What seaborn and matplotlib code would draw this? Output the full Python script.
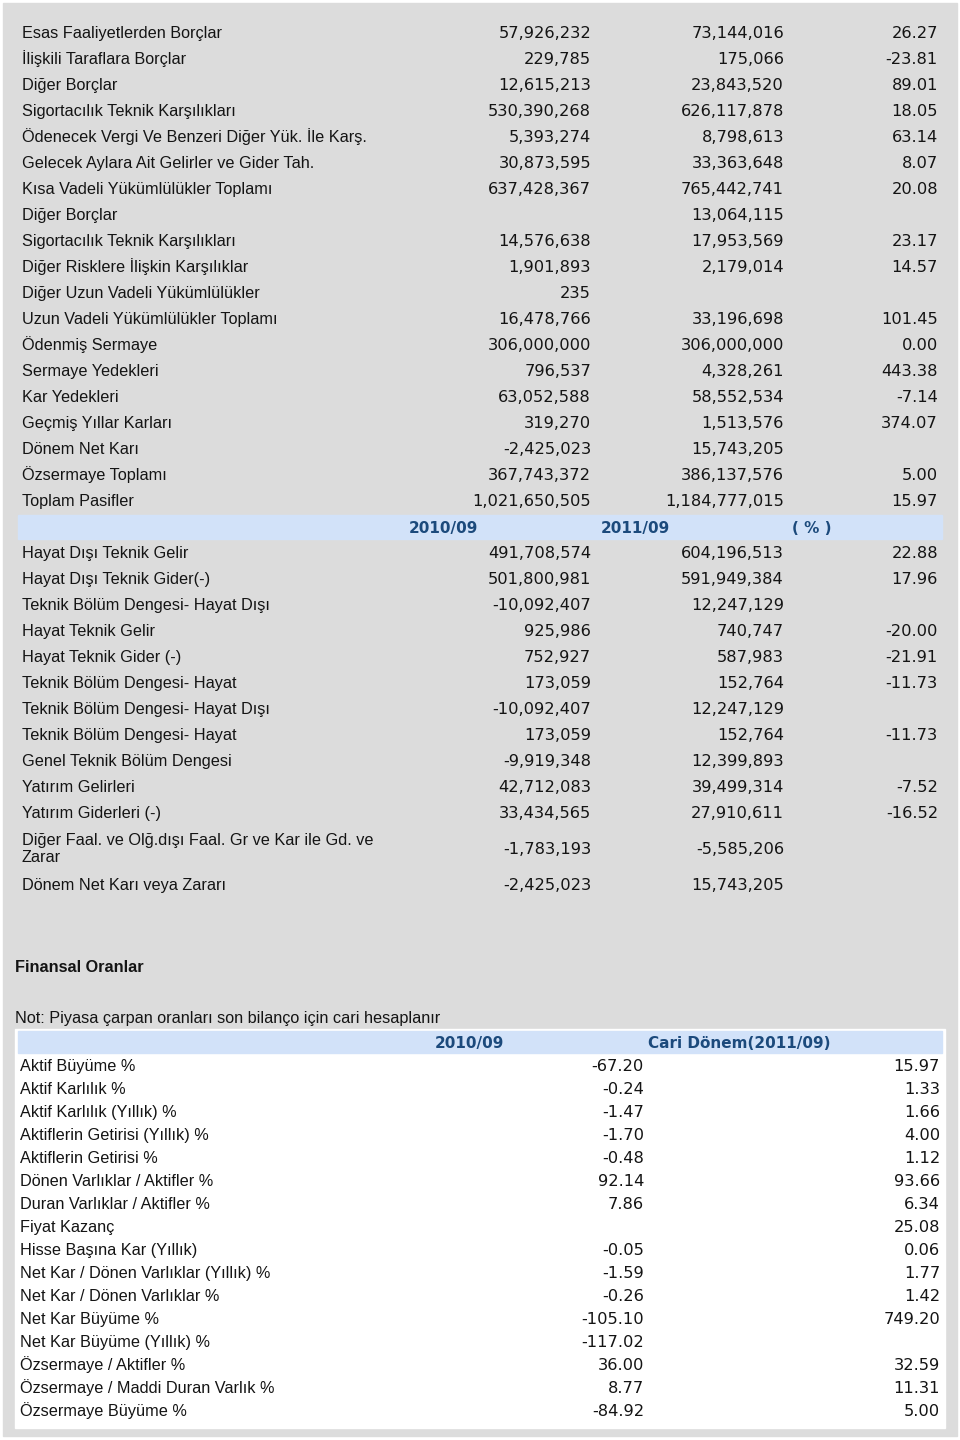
import numpy as np
import pandas as pd
import seaborn as sns
import matplotlib.pyplot as plt
from matplotlib.patches import Rectangle

#-----------------------------------------------------------------------------------------
#----------------------------------- DATOS -----------------------------------------------
#-----------------------------------------------------------------------------------------

pasif_labels = [
    'Esas Faaliyetlerden Borçlar', 'İlişkili Taraflara Borçlar', 'Diğer Borçlar',
    'Sigortacılık Teknik Karşılıkları', 'Ödenecek Vergi Ve Benzeri Diğer Yük. İle Karş.',
    'Gelecek Aylara Ait Gelirler ve Gider Tah.', 'Kısa Vadeli Yükümlülükler Toplamı',
    'Diğer Borçlar', 'Sigortacılık Teknik Karşılıkları', 'Diğer Risklere İlişkin Karşılıklar',
    'Diğer Uzun Vadeli Yükümlülükler', 'Uzun Vadeli Yükümlülükler Toplamı', 'Ödenmiş Sermaye',
    'Sermaye Yedekleri', 'Kar Yedekleri', 'Geçmiş Yıllar Karları', 'Dönem Net Karı',
    'Özsermaye Toplamı', 'Toplam Pasifler',
]
pasif_2010 = [57926232, 229785, 12615213, 530390268, 5393274, 30873595, 637428367,
              None, 14576638, 1901893, 235, 16478766, 306000000, 796537, 63052588,
              319270, -2425023, 367743372, 1021650505]
pasif_2011 = [73144016, 175066, 23843520, 626117878, 8798613, 33363648, 765442741,
              13064115, 17953569, 2179014, None, 33196698, 306000000, 4328261, 58552534,
              1513576, 15743205, 386137576, 1184777015]
pasif_pct = [26.27, -23.81, 89.01, 18.05, 63.14, 8.07, 20.08, None, 23.17, 14.57, None,
             101.45, 0.00, 443.38, -7.14, 374.07, None, 5.00, 15.97]

gelir_labels = [
    'Hayat Dışı Teknik Gelir', 'Hayat Dışı Teknik Gider(-)', 'Teknik Bölüm Dengesi- Hayat Dışı',
    'Hayat Teknik Gelir', 'Hayat Teknik Gider (-)', 'Teknik Bölüm Dengesi- Hayat',
    'Teknik Bölüm Dengesi- Hayat Dışı', 'Teknik Bölüm Dengesi- Hayat',
    'Genel Teknik Bölüm Dengesi', 'Yatırım Gelirleri', 'Yatırım Giderleri (-)',
    'Diğer Faal. ve Olğ.dışı Faal. Gr ve Kar ile Gd. ve\nZarar', 'Dönem Net Karı veya Zararı',
]
gelir_2010 = [491708574, 501800981, -10092407, 925986, 752927, 173059, -10092407, 173059,
              -9919348, 42712083, 33434565, -1783193, -2425023]
gelir_2011 = [604196513, 591949384, 12247129, 740747, 587983, 152764, 12247129, 152764,
              12399893, 39499314, 27910611, -5585206, 15743205]
gelir_pct = [22.88, 17.96, None, -20.00, -21.91, -11.73, None, -11.73, None, -7.52, -16.52,
             None, None]

header_cols = ['2010/09', '2011/09', '( % )']

oran_labels = [
    'Aktif Büyüme %', 'Aktif Karlılık %', 'Aktif Karlılık (Yıllık) %',
    'Aktiflerin Getirisi (Yıllık) %', 'Aktiflerin Getirisi %', 'Dönen Varlıklar / Aktifler %',
    'Duran Varlıklar / Aktifler %', 'Fiyat Kazanç', 'Hisse Başına Kar (Yıllık)',
    'Net Kar / Dönen Varlıklar (Yıllık) %', 'Net Kar / Dönen Varlıklar %', 'Net Kar Büyüme %',
    'Net Kar Büyüme (Yıllık) %', 'Özsermaye / Aktifler %', 'Özsermaye / Maddi Duran Varlık %',
    'Özsermaye Büyüme %',
]
oran_2010 = [-67.20, -0.24, -1.47, -1.70, -0.48, 92.14, 7.86, None, -0.05, -1.59, -0.26,
             -105.10, -117.02, 36.00, 8.77, -84.92]
oran_cari = [15.97, 1.33, 1.66, 4.00, 1.12, 93.66, 6.34, 25.08, 0.06, 1.77, 1.42, 749.20,
             None, 32.59, 11.31, 5.00]
oran_cols = ['2010/09', 'Cari Dönem(2011/09)']

#-----------------------------------------------------------------------------------------
#----------------------------------- ESTILO ----------------------------------------------
#-----------------------------------------------------------------------------------------

sns.set_theme(style='white')
plt.rcParams['font.family'] = ['Liberation Sans', 'DejaVu Sans']

GRIS = '#dcdcdc'
AZUL_BANDA = '#d2e2f9'
AZUL_TXT = '#1c4a7c'
NEGRO = '#141414'
FS = 11.7
NUM_FONT = 'DejaVu Sans'
BASE = 5.8   # desplazamiento centro -> linea base


def fmt_int(v):
    return '' if v is None else f'{v:,.0f}'


def fmt_dec(v):
    return '' if v is None else f'{v:.2f}'


def tabla(ax, y_pos, labels, cols, fmts, x_label, x_cols):
    df = pd.DataFrame({'label': labels, 'y': y_pos})
    for i, c in enumerate(cols):
        df[f'c{i}'] = [fmts[i](v) for v in c]
    for _, r in df.iterrows():
        if '\n' in r['label']:
            ax.text(x_label, r['y'] + 1, r['label'], fontsize=FS, color=NEGRO,
                    va='center', ha='left', linespacing=1.25)
        else:
            ax.text(x_label, r['y'] + BASE, r['label'], fontsize=FS, color=NEGRO,
                    va='baseline', ha='left')
        for i, x in enumerate(x_cols):
            ax.text(x, r['y'] + BASE, r[f'c{i}'], fontsize=FS, color=NEGRO,
                    va='baseline', ha='right', family=NUM_FONT)


fig = plt.figure(figsize=(9.6, 14.4), dpi=100)
ax = fig.add_axes([0, 0, 1, 1])
ax.set_xlim(0, 960)
ax.set_ylim(1440, 0)
ax.axis('off')

# panel gris de fondo
ax.add_patch(Rectangle((3, 3), 954, 1433, color=GRIS, zorder=0))

# posiciones de filas (alto 26, fila de dos lineas 46)
alto = [26] * len(pasif_labels) + [26] + [46 if '\n' in l else 26 for l in gelir_labels]
centros = np.cumsum(alto) - np.array(alto) / 2 + 19
y_pasif = centros[:len(pasif_labels)]
y_head = centros[len(pasif_labels)]
y_gelir = centros[len(pasif_labels) + 1:]

tabla(ax, y_pasif, pasif_labels, [pasif_2010, pasif_2011, pasif_pct],
      [fmt_int, fmt_int, fmt_dec], 22, [591, 784, 938])

ax.add_patch(Rectangle((18, y_head - 11.5), 924, 24, color=AZUL_BANDA, zorder=1))
for txt, x in zip(header_cols, [443, 635, 812]):
    ax.text(x, y_head + 1 + BASE, txt, fontsize=11, fontweight='bold', color=AZUL_TXT,
            ha='center', va='baseline', family=NUM_FONT, zorder=2)

tabla(ax, y_gelir, gelir_labels, [gelir_2010, gelir_2011, gelir_pct],
      [fmt_int, fmt_int, fmt_dec], 22, [591, 784, 938])

# Finansal Oranlar
ax.text(15, 966 + BASE, 'Finansal Oranlar', fontsize=FS, fontweight='bold', color=NEGRO,
        ha='left', va='baseline')
ax.text(15, 1017 + BASE, 'Not: Piyasa çarpan oranları son bilanço için cari hesaplanır',
        fontsize=FS, color=NEGRO, ha='left', va='baseline')

ax.add_patch(Rectangle((15, 1029), 930, 399, color='white', zorder=0.5))
ax.add_patch(Rectangle((18, 1031), 924, 22, color=AZUL_BANDA, zorder=1))
for txt, x in zip(oran_cols, [469, 739]):
    ax.text(x, 1042 + BASE, txt, fontsize=11, fontweight='bold', color=AZUL_TXT,
            ha='center', va='baseline', family=NUM_FONT, zorder=2)

y_oran = 1065 + 23 * np.arange(len(oran_labels))
tabla(ax, y_oran, oran_labels, [oran_2010, oran_cari], [fmt_dec, fmt_dec],
      20, [644, 940])

fig.savefig('out.png', dpi=100, facecolor='white')
